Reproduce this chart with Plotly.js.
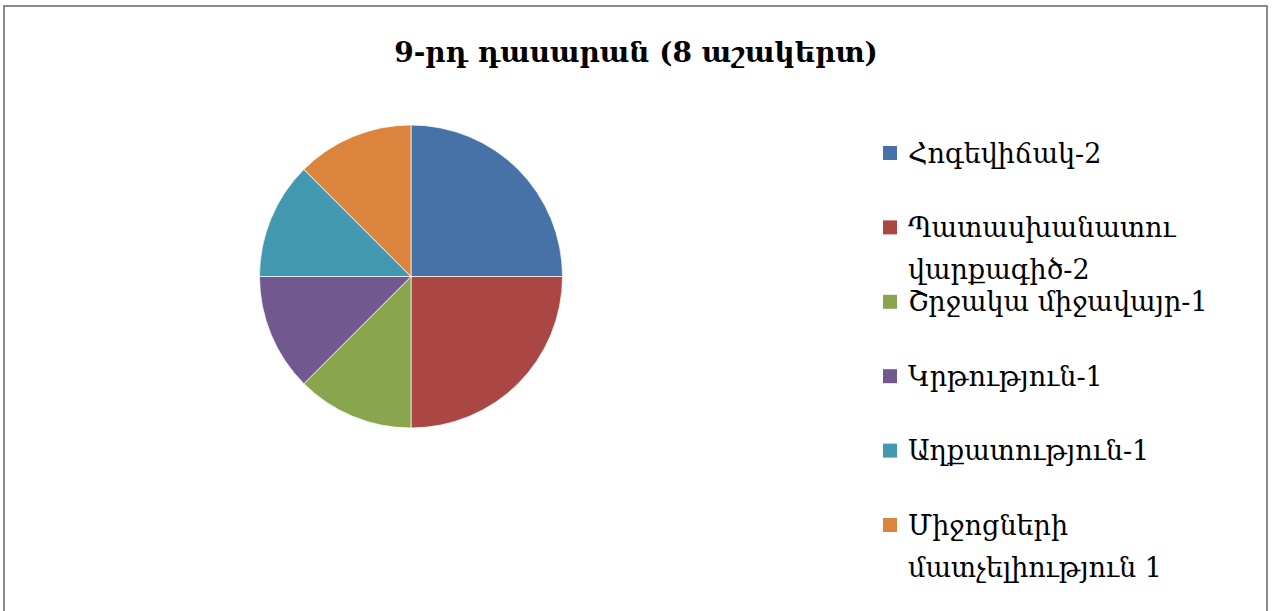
<!DOCTYPE html>
<html>
<head>
<meta charset="utf-8">
<script src="https://cdn.plot.ly/plotly-3.0.1.min.js"></script>
<style>html,body{margin:0;padding:0;background:#fff;}#chart{width:1276px;height:611px;}</style>
</head>
<body>
<div id="chart"></div>
<script>
const chartTitle = "9-րդ դասարան (8 աշակերտ)";
const categories = ["Հոգեվիճակ-2", "Պատասխանատու վարքագիծ-2", "Շրջակա միջավայր-1", "Կրթություն-1", "Աղքատություն-1", "Միջոցների մատչելիություն 1"];
const values = [2, 2, 1, 1, 1, 1];
const colors = ["#4672A8", "#AA4744", "#89A54E", "#71598F", "#4298AF", "#DB843D"];

const W = 1276, H = 611;
const px = x => x / W;
const py = y => 1 - y / H;
const cx = 411, cy = 276.5, r = 151.5;
const FONT = "DejaVu Serif, Liberation Serif, serif";

const legendTop = 153, legendStep = 74.4, lineGap = 42, legFont = 27;
const annotations = [];
const shapes = [];
categories.forEach((lab, i) => {
  const yc = legendTop + i * legendStep;
  const lines = lab.length > 20 ? [lab.slice(0, lab.indexOf(" ")), lab.slice(lab.indexOf(" ") + 1)] : [lab];
  lines.forEach((ln, j) => {
    annotations.push({
      xref: "paper", yref: "paper", x: px(906), y: py(yc + j * lineGap),
      xanchor: "left", yanchor: "middle", showarrow: false, text: ln,
      font: {family: FONT, size: legFont, color: "#000"}
    });
  });
  shapes.push({type: "rect", xref: "paper", yref: "paper",
    x0: px(883), x1: px(897), y0: py(yc - 7), y1: py(yc + 7),
    fillcolor: colors[i], line: {width: 0}});
});
shapes.push({type: "rect", xref: "paper", yref: "paper",
  x0: px(4), x1: px(1267), y0: -0.05, y1: py(6),
  line: {color: "#8a8a8a", width: 2}, fillcolor: "rgba(0,0,0,0)"});

const data = [{
  type: "pie",
  labels: categories,
  values: values,
  sort: false,
  direction: "clockwise",
  rotation: 0,
  textinfo: "none",
  hoverinfo: "label+value+percent",
  marker: {colors: colors, line: {color: "rgba(255,255,255,0.7)", width: 1}},
  domain: {x: [px(cx - r), px(cx + r)], y: [py(cy + r), py(cy - r)]},
  showlegend: false
}];

const layout = {
  width: W, height: H,
  margin: {l: 0, r: 0, t: 0, b: 0},
  paper_bgcolor: "#fff",
  title: {text: "<b>" + chartTitle + "</b>", x: px(636), xanchor: "center", y: py(52), yanchor: "middle",
    font: {family: FONT, size: 28, color: "#000"}},
  showlegend: false,
  annotations: annotations,
  shapes: shapes
};
Plotly.newPlot("chart", data, layout, {displayModeBar: false, staticPlot: true});
</script>
</body>
</html>
